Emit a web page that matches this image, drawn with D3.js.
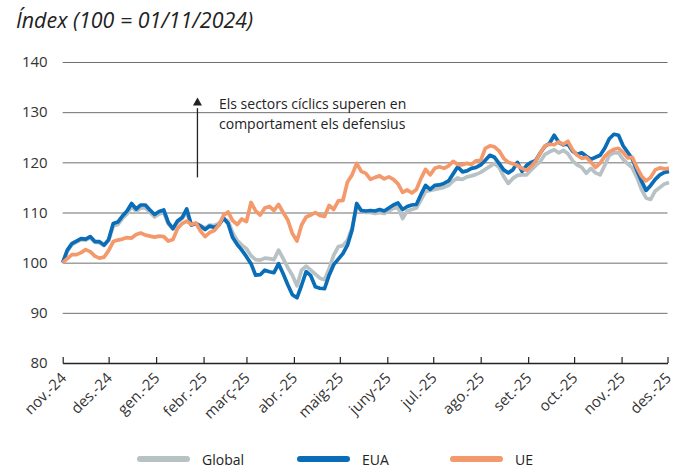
<!DOCTYPE html>
<html>
<head>
<meta charset="utf-8">
<script src="https://cdn.jsdelivr.net/npm/d3@7"></script>
<style>
  body { margin: 0; background: #fff; }
  svg { font-family: "Open Sans", "Noto Sans", sans-serif; }
  .tick text { fill: #333; }
</style>
</head>
<body>
<div id="chart"></div>
<script>
// dates: one point every 3 days from 01/11/2024
const startDate = new Date(2024, 10, 1)
const stepDays = 3

const global = [100, 102.3, 103.6, 104.1, 104.6, 104.5, 105.0, 104.1, 104.0, 103.4,
  104.4, 107.3, 107.6, 108.8, 109.7, 111.2, 110.2, 110.9, 110.9, 110.0,
  109.1, 109.7, 110.0, 107.7, 106.7, 108.1, 108.8, 110.0, 107.5, 107.8,
  107.4, 106.9, 107.5, 107.4, 107.8, 108.8, 108.3, 106.0, 104.4, 103.5,
  102.8, 101.4, 100.6, 100.5, 100.9, 100.8, 100.6, 102.5, 100.8, 99.0,
  97.5, 95.4, 98.5, 99.3, 98.5, 97.7, 96.9, 96.6, 98.8, 101.5,
  103.2, 103.4, 104.5, 107.0, 111.2, 110.4, 110.0, 110.0, 109.8, 110.0,
  109.8, 110.3, 110.8, 111.0, 108.8, 110.3, 110.6, 110.9, 112.5, 114.2,
  114.4, 114.6, 114.8, 115.0, 115.4, 116.3, 116.9, 116.6, 117.1, 117.3,
  117.6, 118.0, 118.6, 119.2, 119.8, 119.0, 117.2, 115.8, 116.8, 117.4,
  117.5, 117.5, 118.5, 119.4, 120.2, 121.6, 122.1, 122.5, 121.9, 122.4,
  121.7, 120.3, 119.5, 119.0, 117.8, 118.8, 117.9, 117.5, 119.4, 121.4,
  121.9, 121.9, 120.6, 119.7, 118.9, 117.0, 114.6, 112.9, 112.6, 114.3,
  115.0, 115.7, 116.0]

const eua = [100, 102.5, 103.8, 104.3, 104.8, 104.7, 105.2, 104.2, 104.2, 103.5,
  104.6, 107.8, 108.1, 109.3, 110.3, 111.8, 110.7, 111.5, 111.5, 110.5,
  109.6, 110.2, 110.5, 108.0, 106.8, 108.3, 109.0, 110.7, 107.5, 107.8,
  107.3, 106.6, 107.3, 107.0, 107.5, 108.9, 107.8, 105.0, 103.6, 102.5,
  101.2, 99.8, 97.5, 97.6, 98.5, 98.2, 98.0, 99.8, 97.8, 95.6,
  93.6, 93.0, 95.5, 98.2, 97.4, 95.2, 94.9, 94.8, 97.5, 99.6,
  100.7, 101.8, 103.5, 106.5, 111.8, 110.4, 110.3, 110.4, 110.3, 110.6,
  110.3, 110.9, 111.5, 111.9, 110.6, 111.2, 111.5, 111.6, 113.6, 115.4,
  114.6, 115.4, 115.5, 115.8, 116.3, 117.7, 119.1, 118.1, 118.3, 118.8,
  119.0, 119.5, 120.4, 121.4, 121.0, 119.8, 118.5, 117.9, 118.5, 120.0,
  118.2, 119.4, 120.0, 120.4, 121.9, 123.2, 123.8, 125.4, 124.0, 123.5,
  123.6, 122.2, 121.6, 121.9, 121.2, 120.6, 121.0, 121.4, 122.8, 124.7,
  125.6, 125.4, 123.3, 122.0, 120.7, 118.4, 116.3, 114.4, 115.4, 116.6,
  117.5, 118.0, 118.2]

const ue = [100, 100.8, 101.6, 101.6, 102.0, 102.6, 102.2, 101.3, 100.9, 101.1,
  102.4, 104.2, 104.5, 104.7, 105.0, 104.9, 105.6, 105.9, 105.5, 105.3,
  105.1, 105.3, 105.2, 104.3, 104.6, 106.8, 107.8, 108.3, 107.6, 107.9,
  106.3, 105.2, 106.0, 106.4, 107.5, 109.4, 110.1, 108.4, 107.6, 108.7,
  108.2, 112.0, 110.3, 109.5, 110.9, 111.2, 110.4, 111.6, 110.0, 108.5,
  105.8, 104.3, 107.5, 109.1, 109.5, 110.0, 109.4, 109.2, 111.4, 110.6,
  112.3, 112.4, 116.1, 117.5, 119.8, 118.2, 117.8, 116.6, 117.0, 117.3,
  116.7, 117.1, 116.6, 115.7, 114.0, 114.5, 113.9, 114.6, 116.8, 118.6,
  117.5, 118.8, 119.1, 118.8, 119.3, 120.2, 119.6, 119.5, 119.8, 119.6,
  120.3, 120.4, 122.8, 123.3, 123.1, 122.3, 120.8, 120.0, 119.7, 119.4,
  118.8, 118.4, 119.2, 120.3, 121.9, 123.3, 123.6, 123.5, 124.1, 123.6,
  124.2, 122.5, 121.4, 120.8, 121.0, 120.0, 119.0, 119.8, 121.2, 122.1,
  122.6, 122.8, 122.0, 120.9, 121.0, 119.0, 117.3, 116.3, 117.0, 118.5,
  118.9, 118.7, 118.8]

const monthLabels = ["nov.-24", "des.-24", "gen.-25", "febr.-25", "març-25", "abr.-25", "maig-25",
  "juny-25", "jul.-25", "ago.-25", "set.-25", "oct.-25", "nov.-25", "des.-25"]
const yTicks = [80, 90, 100, 110, 120, 130, 140]

const seriesNames = ["Global", "EUA", "UE"]
const seriesColors = ["#b8c1c4", "#0a6db7", "#f4996c"]

const dates = global.map((d, i) => d3.timeDay.offset(startDate, i * stepDays))
const monthDates = monthLabels.map((d, i) => new Date(2024, 10 + i, 1))

const width = 683, height = 467

const svg = d3.select("#chart").append("svg")
  .attr("width", width).attr("height", height)

const x = d3.scaleTime()
  .domain([monthDates[0], monthDates[monthDates.length - 1]])
  .range([62.7, 667.5])
const y = d3.scaleLinear().domain([80, 140]).range([363, 62])

// title
svg.append("text")
  .attr("x", 16).attr("y", 28)
  .style("font-size", "21.4px").style("font-style", "italic")
  .attr("fill", "#222")
  .text("Índex (100 = 01/11/2024)")

// grid + y labels
const yAxis = svg.append("g")
  .attr("transform", "translate(62.7,0)")
  .call(d3.axisLeft(y).tickValues(yTicks).tickSize(-(667.5 - 62.7)).tickPadding(15))
yAxis.select(".domain").remove()
yAxis.selectAll(".tick line").attr("stroke", "#6f6f6f").attr("stroke-width", 1)
yAxis.selectAll(".tick text").style("font-size", "15px").style("font-family", "Open Sans")

// lines: Global, EUA, UE
const line = d3.line()
  .x((d, i) => x(dates[i]))
  .y(d => y(d))

const allSeries = [global, eua, ue]
svg.append("g").selectAll("path").data(allSeries).enter().append("path")
  .attr("d", d => line(d))
  .attr("fill", "none")
  .attr("stroke", (d, i) => seriesColors[i])
  .attr("stroke-width", 3.7)
  .attr("stroke-linejoin", "round")

// x axis
const xAxis = svg.append("g")
  .attr("transform", "translate(0,363)")
  .call(d3.axisBottom(x).tickValues(monthDates).tickSize(-6).tickSizeOuter(0)
    .tickFormat((d, i) => monthLabels[i]))
xAxis.select(".domain").attr("stroke", "#222").attr("stroke-width", 1.5)
xAxis.selectAll(".tick line").attr("stroke", "#222").attr("stroke-width", 1.2)
xAxis.selectAll(".tick text")
  .style("font-size", "15px").style("font-family", "Open Sans")
  .attr("text-anchor", "end")
  .attr("dy", null)
  .attr("y", 0)
  .attr("transform", "translate(4,16) rotate(-45)")

// annotation arrow
const ann = svg.append("g")
ann.append("line")
  .attr("x1", x(new Date(2025, 0, 28))).attr("x2", x(new Date(2025, 0, 28)))
  .attr("y1", y(117)).attr("y2", y(130.8))
  .attr("stroke", "#222").attr("stroke-width", 1.3)
ann.append("path")
  .attr("transform", "translate(" + x(new Date(2025, 0, 28)) + "," + y(132.9) + ")")
  .attr("d", "M0,0 L4.5,8 L-4.5,8 Z")
  .attr("fill", "#222")
ann.append("text")
  .attr("x", 219).attr("y", 109)
  .style("font-size", "14px").attr("fill", "#222")
  .text("Els sectors cíclics superen en")
ann.append("text")
  .attr("x", 219).attr("y", 129)
  .style("font-size", "14px").attr("fill", "#222")
  .text("comportament els defensius")

// legend
const legendX = [137, 297, 450]
const legend = svg.append("g").selectAll(".legends").data(seriesNames).enter().append("g")
  .classed("legends", true)
  .attr("transform", (d, i) => "translate(" + legendX[i] + ",459)")
legend.append("line")
  .attr("x1", 3).attr("x2", 50)
  .attr("stroke", (d, i) => seriesColors[i])
  .attr("stroke-width", 6).attr("stroke-linecap", "round")
legend.append("text")
  .attr("x", 65).attr("y", 5.5)
  .style("font-size", "14px").attr("fill", "#222")
  .text(d => d)
</script>
</body>
</html>
